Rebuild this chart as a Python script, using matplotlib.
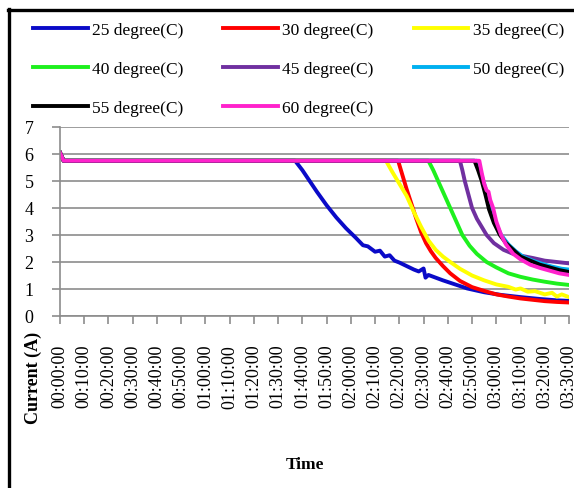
import matplotlib.pyplot as plt
from matplotlib.lines import Line2D

plt.rcParams['font.family'] = ['Liberation Serif', 'DejaVu Serif']

# time in minutes from start, current in A
t25 = [0, 1.5, 97, 100, 103, 106, 110, 114, 118, 122, 125, 127, 130, 132, 134, 136, 138, 140,
       143, 146, 148, 150, 150.8, 152, 155, 158, 163, 168, 175, 182, 190, 198, 205, 210]
i25 = [6.05, 5.75, 5.75, 5.4, 5.0, 4.6, 4.1, 3.65, 3.25, 2.9, 2.62, 2.58, 2.38, 2.42, 2.2, 2.25, 2.05, 1.98,
       1.85, 1.72, 1.65, 1.76, 1.42, 1.52, 1.42, 1.32, 1.17, 1.02, 0.88, 0.78, 0.7, 0.63, 0.58, 0.56]

t30 = [0, 1.5, 139.5, 141, 143, 145, 147, 149, 151, 153, 155, 158, 161, 165, 170, 175, 180, 185, 190, 195, 200, 205, 210]
i30 = [6.05, 5.75, 5.75, 5.3, 4.7, 4.15, 3.6, 3.1, 2.7, 2.4, 2.15, 1.85, 1.58, 1.3, 1.07, 0.93, 0.8, 0.72, 0.65, 0.6, 0.55, 0.52, 0.5]

t35 = [0, 1.5, 134.5, 137, 140, 143, 146, 149, 152, 155, 158, 161, 165, 170, 175, 180, 185, 188, 190, 193, 196, 200, 203, 205, 207, 210]
i35 = [6.05, 5.75, 5.75, 5.35, 4.9, 4.45, 3.85, 3.3, 2.8, 2.45, 2.2, 2.0, 1.75, 1.5, 1.32, 1.17, 1.08, 0.98, 1.02, 0.9, 0.92, 0.8, 0.86, 0.72, 0.8, 0.7]

t40 = [0, 1.5, 152, 154, 156, 158, 161, 163, 166, 169, 172, 176, 180, 185, 190, 195, 200, 205, 210]
i40 = [6.05, 5.75, 5.75, 5.4, 5.0, 4.6, 4.0, 3.6, 3.0, 2.6, 2.3, 2.0, 1.8, 1.58, 1.45, 1.35, 1.27, 1.2, 1.15]

t45 = [0, 1.5, 165, 166, 167, 168.5, 170, 172, 174, 176, 179, 183, 187, 191, 195, 200, 205, 210]
i45 = [6.05, 5.75, 5.75, 5.4, 5.0, 4.5, 4.0, 3.6, 3.3, 3.0, 2.7, 2.45, 2.3, 2.22, 2.15, 2.05, 2.0, 1.95]

t50 = [0, 1.5, 172, 173.5, 175, 176.5, 178, 180, 182, 185, 188, 191, 195, 199, 203, 207, 210]
i50 = [6.05, 5.75, 5.75, 5.35, 4.9, 4.4, 3.9, 3.4, 3.0, 2.65, 2.4, 2.2, 2.05, 1.93, 1.83, 1.75, 1.72]

t55 = [0, 1.5, 171, 172.5, 174, 175.5, 177, 179, 181.5, 184, 187, 190, 194, 198, 202, 206, 210]
i55 = [6.05, 5.75, 5.75, 5.4, 5.0, 4.5, 3.95, 3.45, 3.0, 2.7, 2.45, 2.2, 2.05, 1.9, 1.8, 1.7, 1.63]

t60 = [0, 1.5, 173, 174, 175, 176, 176.8, 177.5, 178.7, 180, 182, 184, 187, 190, 194, 198, 202, 206, 210]
i60 = [6.05, 5.75, 5.75, 5.3, 4.9, 4.65, 4.6, 4.3, 4.0, 3.5, 3.0, 2.65, 2.3, 2.1, 1.9, 1.78, 1.68, 1.58, 1.52]

labels = ['25 degree(C)', '30 degree(C)', '35 degree(C)', '40 degree(C)',
          '45 degree(C)', '50 degree(C)', '55 degree(C)', '60 degree(C)']
colors = ['#0A0AC8', '#FF0000', '#FFFF00', '#1EF01E', '#7030A0', '#00B0F0', '#000000', '#FF22CC']
x_ticks = list(range(0, 211, 10))
x_ticklabels = ['00:00:00', '00:10:00', '00:20:00', '00:30:00', '00:40:00', '00:50:00',
                '01:00:00', '01:10:00', '01:20:00', '01:30:00', '01:40:00', '01:50:00',
                '02:00:00', '02:10:00', '02:20:00', '02:30:00', '02:40:00', '02:50:00',
                '03:00:00', '03:10:00', '03:20:00', '03:30:00']

series = [(t25, i25), (t30, i30), (t35, i35), (t40, i40),
          (t45, i45), (t50, i50), (t55, i55), (t60, i60)]

W, H = 574, 489
fig = plt.figure(figsize=(W / 100, H / 100), dpi=100)
ax = fig.add_axes([60 / W, 1 - 317 / H, (569 - 60) / W, (317 - 128) / H])

lines = []
for (t, v), c, lab in zip(series, colors, labels):
    ln, = ax.plot(t, v, color=c, lw=2.8, label=lab, solid_joinstyle='round')
    lines.append(ln)

ax.set_xlim(0, 210)
ax.set_ylim(0, 7)
ax.set_yticks(range(0, 8))
ax.set_xticks(x_ticks)
ax.set_xticklabels(x_ticklabels, rotation=90, va='top', ha='center')
ax.grid(axis='y', color='#8C8C8C', lw=1.2)
ax.set_axisbelow(True)
for s in ['top', 'right']:
    ax.spines[s].set_visible(False)
for s in ['left', 'bottom']:
    ax.spines[s].set_color('#8C8C8C')
    ax.spines[s].set_linewidth(1.2)
ax.tick_params(axis='both', direction='out', length=6, width=1.2, color='#8C8C8C', labelsize=13)
ax.tick_params(axis='x', pad=14)
ax.tick_params(axis='y', pad=13)

# legend filled row by row
order = [0, 3, 6, 1, 4, 7, 2, 5]
fig.legend([lines[k] for k in order], [labels[k] for k in order],
           loc='upper left', bbox_to_anchor=(33 / W, 1 - 22.5 / H), ncol=3, frameon=False,
           fontsize=12.5, handlelength=3.15, handletextpad=0.25, columnspacing=2.3,
           labelspacing=1.34, borderpad=0, borderaxespad=0)

fig.text(33 / W, 1 - 378 / H, 'Current (A)', rotation=90, ha='center', va='center',
         fontsize=13, fontweight='bold')
fig.text(305 / W, 1 - 465 / H, 'Time', ha='center', va='center', fontsize=12.5, fontweight='bold')

# outer frame (left and top edges visible)
fig.add_artist(Line2D([8.5 / W, 8.5 / W], [0, 1 - 10 / H], color='black', lw=2.4, transform=fig.transFigure))
fig.add_artist(Line2D([7.5 / W, 1], [1 - 10.5 / H, 1 - 10.5 / H], color='black', lw=2.4, transform=fig.transFigure))

fig.savefig('out.png', dpi=100)
